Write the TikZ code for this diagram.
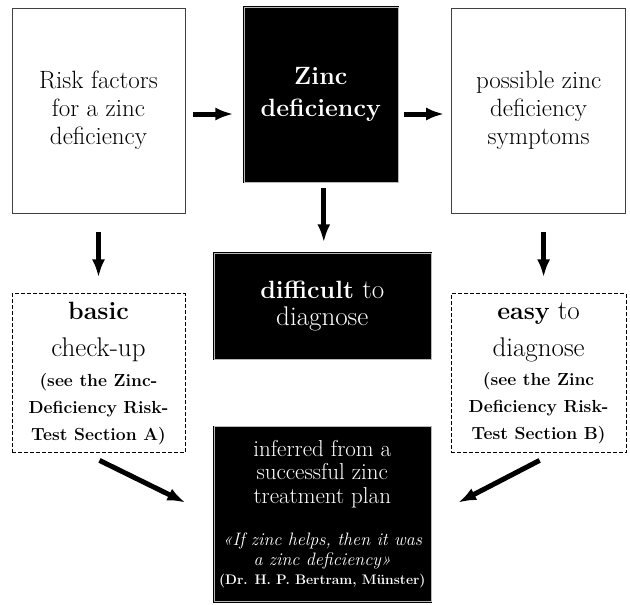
\documentclass[tikz,border=0pt]{standalone}
\usepackage{tikz}
\usetikzlibrary{arrows.meta, positioning}
\tikzstyle{factor} = [rectangle, draw=black!75, line width=0.8pt, minimum width=173pt, minimum height=205pt, text centered, font=\fontsize{25}{28}\selectfont]
\tikzstyle{deficit} = [rectangle, draw=black, line width=0.8pt, double=gray!55, double distance=0.6pt, fill=black, text=white, text centered]
\tikzstyle{checkup} = [rectangle, draw, line width=1pt, dash pattern=on 4pt off 2pt, minimum width=173pt, minimum height=159pt, text centered, font=\fontsize{27}{27}\selectfont]
\tikzstyle{cable} = [line width=5pt, -{Latex[length=18pt, width=13pt]}]
\newcommand{\testnote}[1]{{\fontsize{17.5}{27}\selectfont\bfseries #1}}

\begin{document}
\begin{tikzpicture}[align=center, node distance=80pt]
  \useasboundingbox (0,0) rectangle (630pt,-605pt);
  \node (risk) [factor] at (98.5pt,-110.5pt) {Risk factors\\for a zinc\\deficiency};
  \node (zinc) [deficit, minimum width=154pt, minimum height=175pt, font=\fontsize{25}{32}\selectfont\bfseries, right=58pt of risk, yshift=16pt] {Zinc\\deficiency};
  \node (symptoms) [factor, minimum width=174pt, right=53pt of zinc, yshift=-16pt] {possible zinc\\deficiency\\symptoms};
  \draw [cable, shorten <=8pt, shorten >=10pt] ([yshift=-3.5pt]risk.east) -- ([yshift=-3.5pt]risk.east -| zinc.west);
  \draw [cable, shorten <=6pt, shorten >=7pt] ([yshift=-3.5pt]symptoms.west -| zinc.east) -- ([yshift=-3.5pt]symptoms.west);
  %second row
  \node (basic) [checkup, below= of risk] {{\fontsize{25}{27}\selectfont\bfseries basic}\\[10pt]check-up\\[2.5pt]\testnote{(see the Zinc-}\\\testnote{Deficiency Risk-}\\\testnote{Test Section A)}};
  \node (difficult) [deficit, below=70pt of zinc, xshift=1.5pt, minimum width=217pt, minimum height=106pt, font=\fontsize{27}{27}\selectfont] {{\fontsize{25}{27}\selectfont\bfseries difficult} to\\diagnose};
  \node (easy) [checkup, minimum width=175pt, below= of symptoms] {{\fontsize{25}{27}\selectfont\bfseries easy} to\\[10pt]diagnose\\[2.5pt]\testnote{(see the Zinc}\\\testnote{Deficiency Risk-}\\\testnote{Test Section B)}};
  \draw [cable, shorten <=19pt, shorten >=16pt] (risk.south) -- (risk.south |- basic.north);
  \draw [cable, shorten <=6pt, shorten >=10pt] ([xshift=3pt]zinc.south) -- ([xshift=3pt]zinc.south |- difficult.north);
  \draw [cable, shorten <=19pt, shorten >=16pt] ([xshift=5pt]symptoms.south) -- ([xshift=5pt]symptoms.south |- easy.north);
  %result
  \node (inferred) [deficit, below=67pt of difficult, minimum width=217pt, minimum height=175pt, font=\fontsize{23}{23.5}\selectfont] {inferred from a\\successful zinc\\treatment plan\\[18.5pt]{\fontsize{18}{20}\selectfont\itshape «If zinc helps, then it was}\\[-3.5pt]{\fontsize{18}{20}\selectfont\itshape a zinc deficiency»}\\[-4pt]{\fontsize{13.8}{19}\selectfont\bfseries (Dr. H. P. Bertram, Münster)}};
  \draw [cable] ([shift={(1pt,-7pt)}]basic.south) -- ([shift={(-28pt,11.5pt)}]inferred.west);
  \draw [cable] ([shift={(1pt,-7pt)}]easy.south) -- ([shift={(27pt,11.5pt)}]inferred.east);
\end{tikzpicture}
\end{document}
